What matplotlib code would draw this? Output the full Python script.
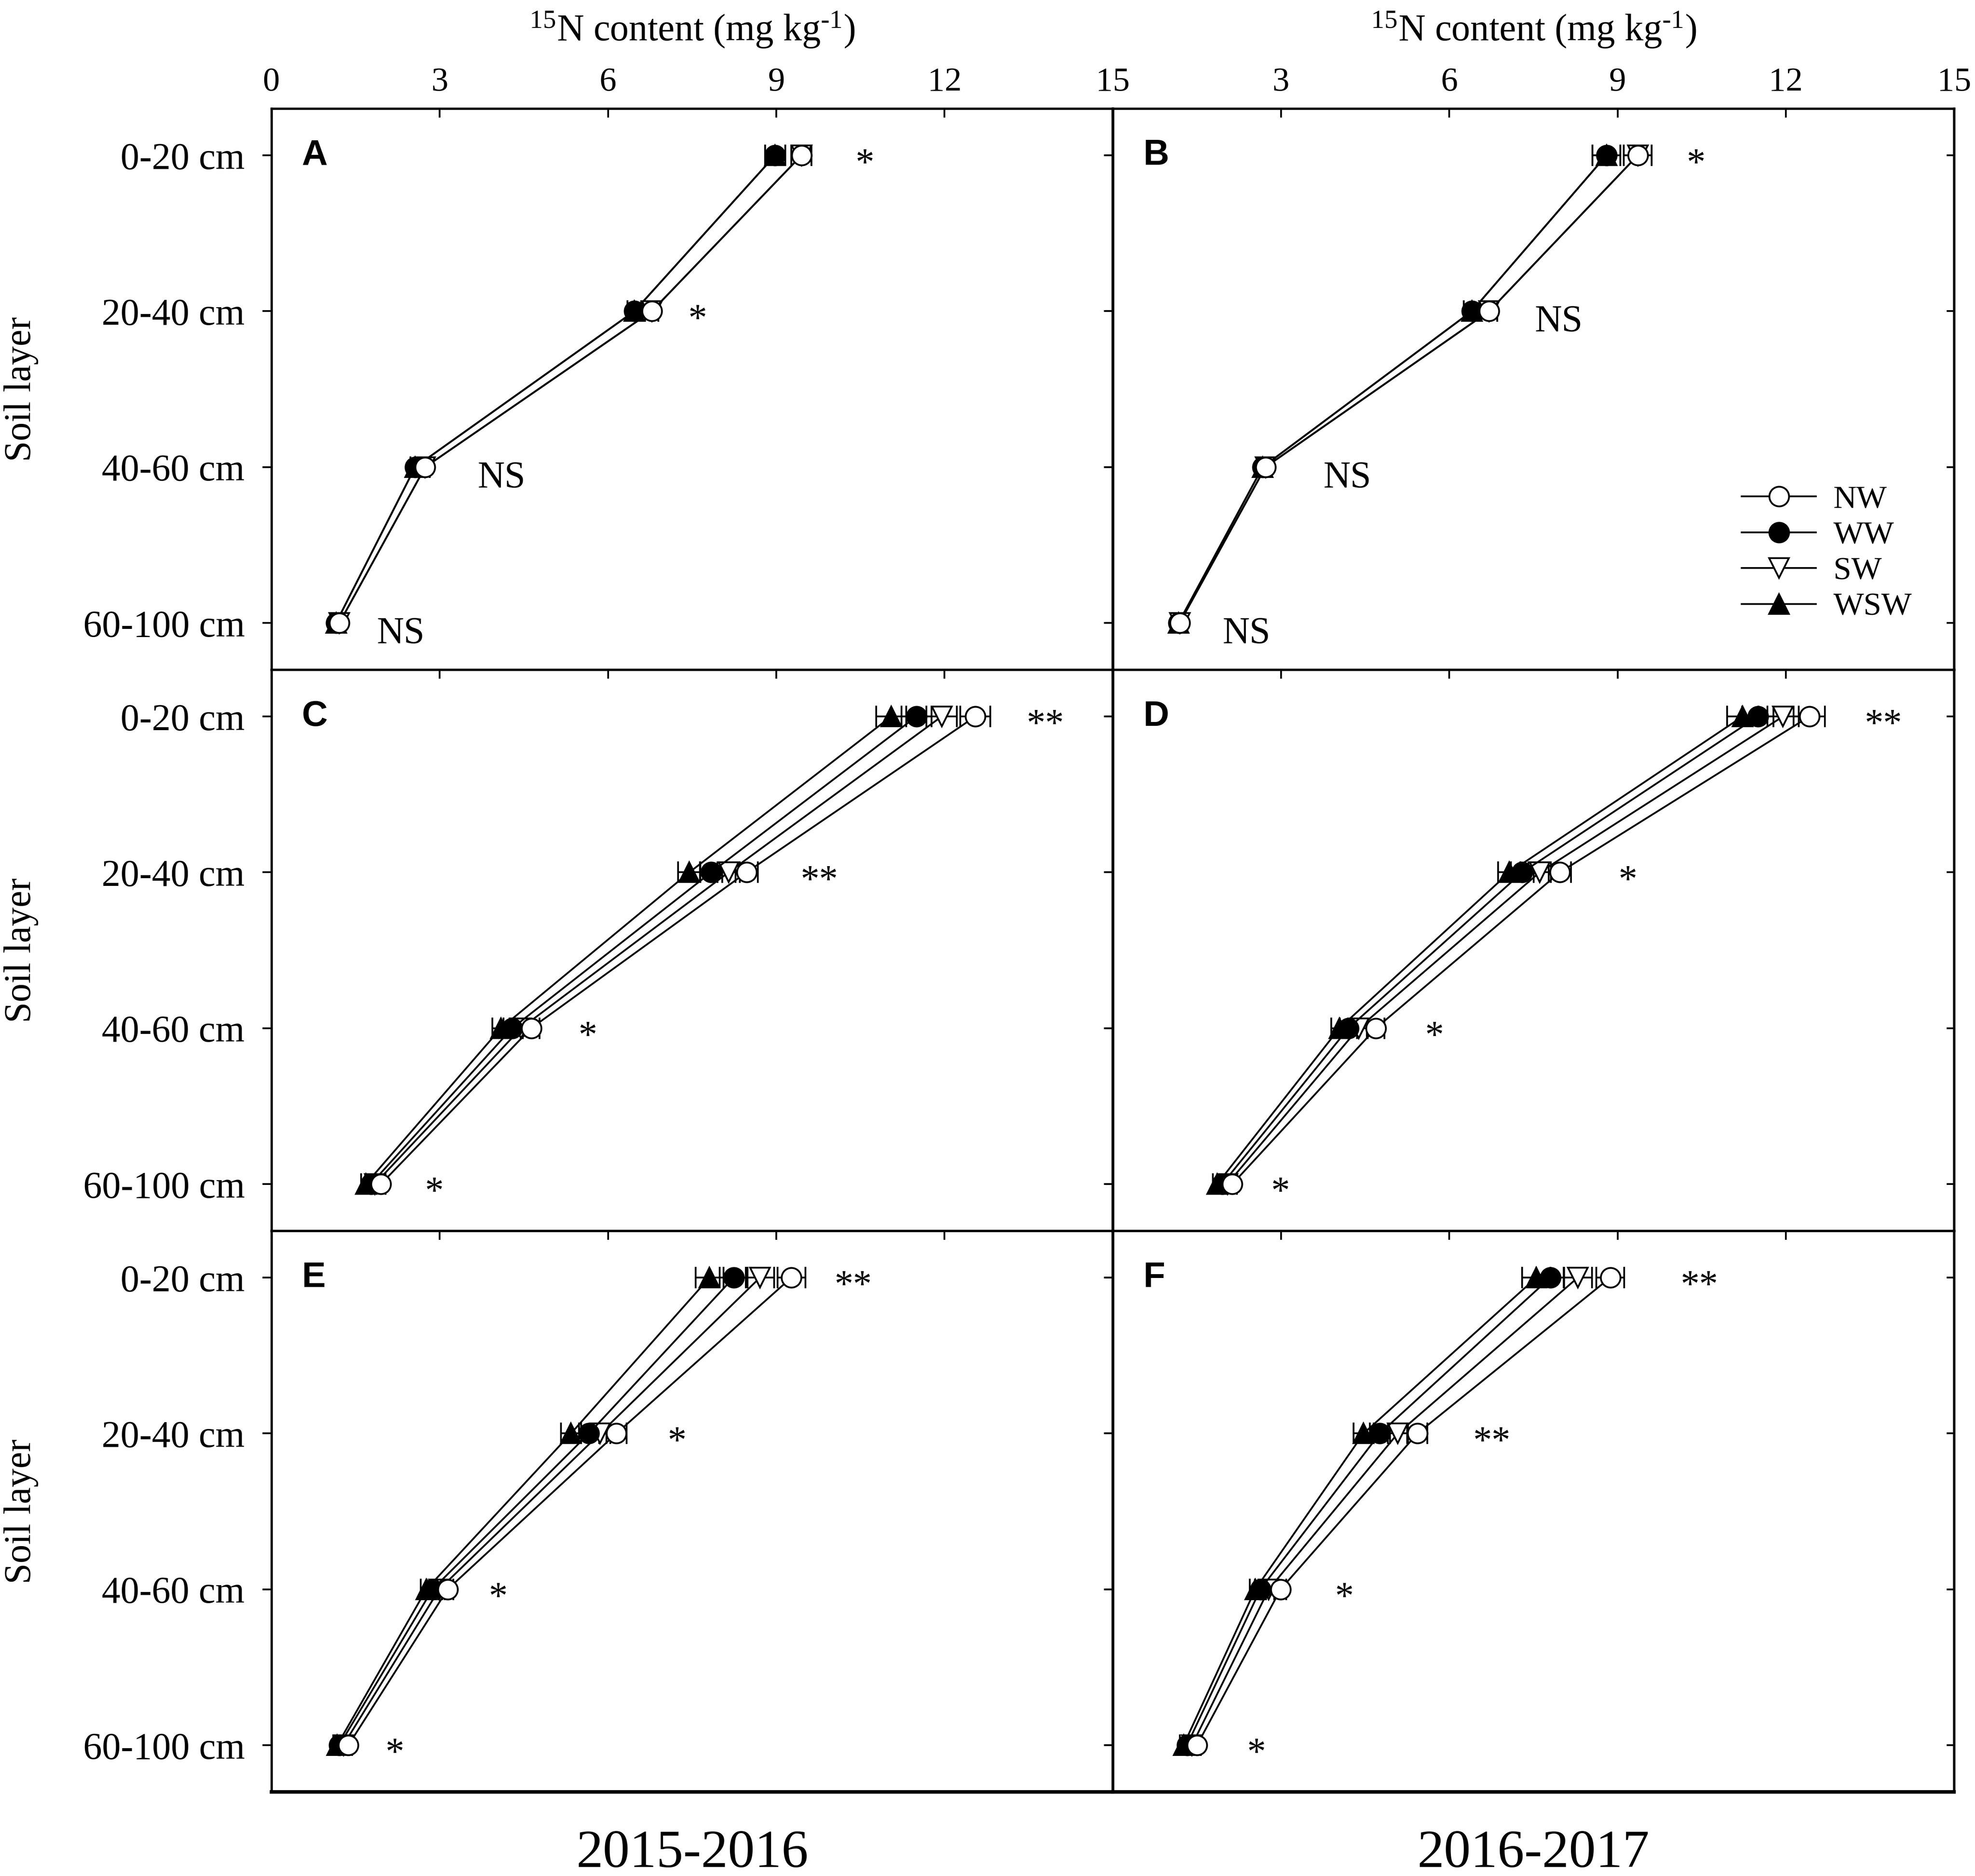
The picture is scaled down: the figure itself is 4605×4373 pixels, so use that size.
import matplotlib.pyplot as plt
import matplotlib.lines as mlines

plt.rcParams['font.family'] = 'Liberation Serif'
plt.rcParams['mathtext.fontset'] = 'custom'
plt.rcParams['mathtext.rm'] = 'Liberation Serif'
plt.rcParams['mathtext.it'] = 'Liberation Serif:italic'

layers = ['0-20 cm', '20-40 cm', '40-60 cm', '60-100 cm']
x_ticks = [0, 3, 6, 9, 12, 15]

# 15N content (mg kg-1) per soil layer
A_NW = [9.45, 6.78, 2.74, 1.21]
A_WW = [8.98, 6.47, 2.56, 1.15]
A_SW = [9.45, 6.78, 2.74, 1.21]
A_WSW = [8.98, 6.47, 2.56, 1.15]
A_err = [0.18, 0.12, 0.08, 0.06]

B_NW = [9.36, 6.71, 2.72, 1.19]
B_WW = [8.80, 6.40, 2.67, 1.17]
B_SW = [9.36, 6.71, 2.72, 1.19]
B_WSW = [8.80, 6.40, 2.67, 1.17]
B_err = [0.25, 0.14, 0.08, 0.06]

C_NW = [12.55, 8.47, 4.63, 1.95]
C_WW = [11.50, 7.84, 4.29, 1.77]
C_SW = [11.95, 8.15, 4.45, 1.84]
C_WSW = [11.05, 7.45, 4.09, 1.68]
C_err = [0.27, 0.20, 0.15, 0.08]

D_NW = [12.42, 7.97, 4.69, 2.13]
D_WW = [11.50, 7.30, 4.20, 1.95]
D_SW = [11.95, 7.61, 4.38, 2.04]
D_WSW = [11.23, 7.07, 4.04, 1.86]
D_err = [0.28, 0.20, 0.15, 0.08]

E_NW = [9.27, 6.15, 3.14, 1.37]
E_WW = [8.24, 5.66, 2.87, 1.21]
E_SW = [8.71, 5.86, 2.99, 1.28]
E_WSW = [7.81, 5.34, 2.76, 1.17]
E_err = [0.25, 0.18, 0.10, 0.07]

F_NW = [8.87, 5.43, 2.99, 1.50]
F_WW = [7.80, 4.76, 2.63, 1.32]
F_SW = [8.29, 5.08, 2.78, 1.41]
F_WSW = [7.55, 4.47, 2.54, 1.26]
F_err = [0.25, 0.18, 0.10, 0.07]

# significance labels and their x positions
A_sig = ['*', '*', 'NS', 'NS']
A_sig_x = [10.58, 7.6, 4.1, 2.3]
B_sig = ['*', 'NS', 'NS', 'NS']
B_sig_x = [10.4, 7.95, 4.18, 2.38]
C_sig = ['**', '**', '*', '*']
C_sig_x = [13.8, 9.77, 5.64, 2.9]
D_sig = ['**', '*', '*', '*']
D_sig_x = [13.74, 9.18, 5.73, 2.99]
E_sig = ['**', '*', '*', '*']
E_sig_x = [10.37, 7.23, 4.04, 2.2]
F_sig = ['**', '**', '*', '*']
F_sig_x = [10.46, 6.76, 4.13, 2.56]

styles = {'NW': ('o', 'white'), 'WW': ('o', 'black'),
          'SW': ('v', 'white'), 'WSW': ('^', 'black')}
draw_order = ['WSW', 'SW', 'WW', 'NW']


def draw_panel(ax, letter, series, err, sig, sig_x, col, row):
    ypos = list(range(len(layers)))
    for name in draw_order:
        marker, face = styles[name]
        ax.errorbar(series[name], ypos, xerr=err, color='black', lw=1.0,
                    marker=marker, markersize=11, mfc=face, mec='black', mew=1.0,
                    elinewidth=1.0, capsize=6, capthick=1.0)
    for s, sx, y in zip(sig, sig_x, ypos):
        dy = 0.06 if '*' in s else 0.07
        ax.text(sx, y + dy, s, fontsize=21, ha='center', va='center')
    ax.text(0.54, 0, letter, fontsize=20, fontweight='bold',
            family='Liberation Sans', ha='left', va='center')

    ax.set_xlim(0, 15)
    ax.set_ylim(3.3, -0.3)
    ax.set_xticks(x_ticks)
    ax.set_yticks(ypos)
    ax.xaxis.set_ticks_position('top')
    ax.tick_params(axis='x', which='both', direction='in', length=5, width=1.0,
                   top=True, bottom=False, labelsize=19, pad=6)
    ax.tick_params(axis='y', which='both', direction='out', length=5, width=1.0,
                   left=True, right=False, labelsize=21, pad=10)
    for sp in ax.spines.values():
        sp.set_linewidth(1.3)
    if row == 2:
        ax.spines['bottom'].set_linewidth(2.0)
    # inward ticks on the right side
    ax_r = ax.secondary_yaxis('right')
    ax_r.set_yticks(ypos)
    ax_r.tick_params(direction='in', length=4, width=1.0, labelright=False)
    ax_r.spines['right'].set_linewidth(1.3)

    if row == 0:
        if col == 0:
            ax.set_xticklabels([str(t) for t in x_ticks])
        else:
            ax.set_xticklabels([''] + [str(t) for t in x_ticks[1:]])
    else:
        ax.set_xticklabels([])
    if col == 0:
        ax.set_yticklabels(layers)
    else:
        ax.set_yticklabels([])


def main():
    fig = plt.figure(figsize=(15.35, 14.577), dpi=300)
    lefts = [0.1375, 0.5635]
    width = 0.4259
    bottoms = [0.6430, 0.3439, 0.0448]
    height = 0.2991

    panels = [
        ('A', {'NW': A_NW, 'WW': A_WW, 'SW': A_SW, 'WSW': A_WSW}, A_err, A_sig, A_sig_x),
        ('B', {'NW': B_NW, 'WW': B_WW, 'SW': B_SW, 'WSW': B_WSW}, B_err, B_sig, B_sig_x),
        ('C', {'NW': C_NW, 'WW': C_WW, 'SW': C_SW, 'WSW': C_WSW}, C_err, C_sig, C_sig_x),
        ('D', {'NW': D_NW, 'WW': D_WW, 'SW': D_SW, 'WSW': D_WSW}, D_err, D_sig, D_sig_x),
        ('E', {'NW': E_NW, 'WW': E_WW, 'SW': E_SW, 'WSW': E_WSW}, E_err, E_sig, E_sig_x),
        ('F', {'NW': F_NW, 'WW': F_WW, 'SW': F_SW, 'WSW': F_WSW}, F_err, F_sig, F_sig_x),
    ]
    axes = {}
    for i, (letter, series, err, sig, sig_x) in enumerate(panels):
        row, col = i // 2, i % 2
        ax = fig.add_axes([lefts[col], bottoms[row], width, height])
        draw_panel(ax, letter, series, err, sig, sig_x, col, row)
        axes[letter] = ax

    handles = []
    for name in ['NW', 'WW', 'SW', 'WSW']:
        marker, face = styles[name]
        handles.append(mlines.Line2D([], [], color='black', lw=1.0, marker=marker,
                                     markersize=11, mfc=face, mec='black', mew=1.0,
                                     label=name))
    axes['B'].legend(handles=handles, loc='center', bbox_to_anchor=(0.849, 0.207),
                     frameon=False, fontsize=18, handlelength=2.3, handletextpad=0.55,
                     labelspacing=0.2)

    title = r'$^{15}$N content (mg kg$^{\text{-1}}$)'
    for col in range(2):
        cx = lefts[col] + width / 2
        fig.text(cx, 0.984, title, fontsize=21, ha='center', va='center')
    fig.text(lefts[0] + width / 2, 0.0117, '2015-2016', fontsize=30, ha='center', va='center')
    fig.text(lefts[1] + width / 2, 0.0117, '2016-2017', fontsize=30, ha='center', va='center')
    for row in range(3):
        fig.text(0.0108, bottoms[row] + height / 2, 'Soil layer', fontsize=21,
                 rotation=90, ha='center', va='center')

    fig.savefig('out.png', dpi=300)


if __name__ == '__main__':
    main()
